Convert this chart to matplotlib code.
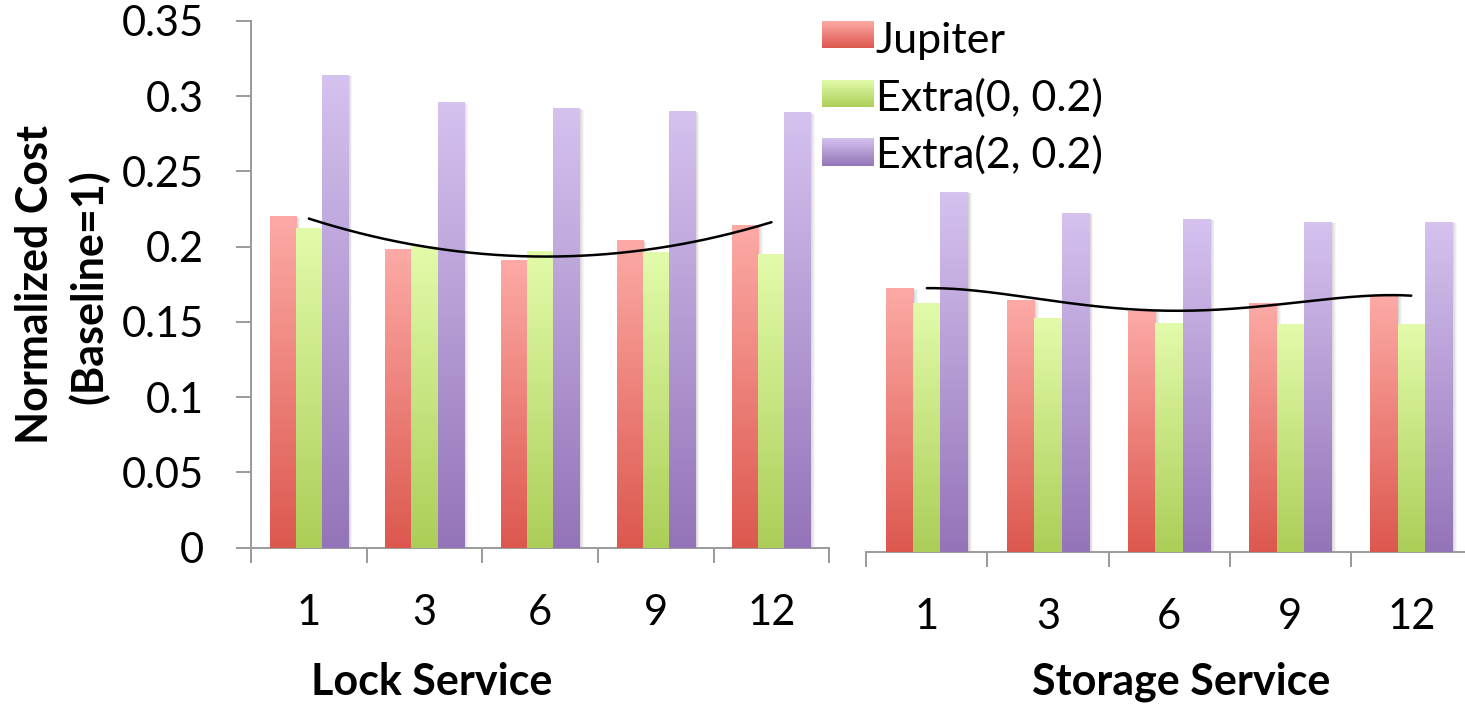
import numpy as np
import matplotlib
matplotlib.use("Agg")
import matplotlib.pyplot as plt
from matplotlib.colors import LinearSegmentedColormap
from matplotlib.patches import Rectangle
from matplotlib.transforms import offset_copy

plt.rcParams['font.family'] = ['Lato', 'DejaVu Sans']

# ---- data -------------------------------------------------------------
categories = ['1', '3', '6', '9', '12']
series_names = ['Jupiter', 'Extra(0, 0.2)', 'Extra(2, 0.2)']

lock_jupiter = [0.220, 0.198, 0.191, 0.204, 0.214]
lock_extra0 = [0.212, 0.200, 0.197, 0.196, 0.195]
lock_extra2 = [0.314, 0.296, 0.292, 0.290, 0.289]

storage_jupiter = [0.175, 0.167, 0.160, 0.165, 0.170]
storage_extra0 = [0.165, 0.155, 0.152, 0.151, 0.151]
storage_extra2 = [0.239, 0.225, 0.221, 0.219, 0.219]

y_ticks = [0, 0.05, 0.10, 0.15, 0.20, 0.25, 0.30, 0.35]
y_tick_labels = ['0', '0.05', '0.1', '0.15', '0.2', '0.25', '0.3', '0.35']

panel_titles = ['Lock Service', 'Storage Service']
y_title = ['Normalized Cost', '(Baseline=1)']

# ---- styling ----------------------------------------------------------
gradients = [('#FDAAA6', '#DC584E'),   # top, bottom
             ('#E2FBAA', '#ACCE58'),
             ('#D5C2EF', '#9474B8')]
axis_gray = '#9C9C9C'
W, H = 1465, 705
DPI = 100
PT = 72.0 / DPI  # points per pixel
TICK_FS = 30
LEGEND_FS = 31
TITLE_FS = 31

fig = plt.figure(figsize=(W / DPI, H / DPI), dpi=DPI)
fig.patch.set_facecolor('white')


def fig_rect(x0, y_top, x1, y_bottom):
    return [x0 / W, 1 - y_bottom / H, (x1 - x0) / W, (y_bottom - y_top) / H]


def gradient_cmap(top, bottom):
    return LinearSegmentedColormap.from_list('g', [bottom, top])


grad_img = np.linspace(0, 1, 256).reshape(-1, 1)


def draw_panel(ax, series, trend_deg):
    n = len(categories)
    x = np.arange(n)
    width = 0.225
    for i, vals in enumerate(series):
        top, bottom = gradients[i]
        cmap = gradient_cmap(top, bottom)
        bars = ax.bar(x + (i - 1) * width, vals, width,
                      color='none', edgecolor='none', zorder=3)
        for b in bars:
            x0, w, h = b.get_x(), b.get_width(), b.get_height()
            # soft drop shadow
            for k in range(1, 6):
                tr = offset_copy(ax.transData, fig=fig, x=k * 0.9,
                                 y=-k * 0.3, units='dots')
                ax.add_patch(Rectangle((x0, 0), w, h, transform=tr,
                                       facecolor='black', alpha=0.035,
                                       lw=0, zorder=2))
            ax.imshow(grad_img, extent=[x0, x0 + w, 0, h], origin='lower',
                      aspect='auto', cmap=cmap, interpolation='bilinear',
                      zorder=3)
    # polynomial trend line of the Jupiter series
    coeffs = np.polyfit(x, series[0], trend_deg)
    xs = np.linspace(0, n - 1, 300)
    ax.plot(xs, np.polyval(coeffs, xs), color='black', lw=2.5 * PT,
            zorder=6, solid_capstyle='round')

    ax.set_xlim(-0.5, n - 0.5)
    ax.set_ylim(0, 0.35)
    ax.set_facecolor('none')
    for s in ('top', 'right'):
        ax.spines[s].set_visible(False)
    ax.spines['bottom'].set_color(axis_gray)
    ax.spines['bottom'].set_linewidth(2.0 * PT)
    ax.spines['left'].set_color(axis_gray)
    ax.spines['left'].set_linewidth(2.0 * PT)

    ax.set_xticks(np.arange(-0.5, n, 1.0))
    ax.set_xticklabels([])
    ax.set_xticks(x, minor=True)
    ax.set_xticklabels(categories, minor=True, fontsize=TICK_FS)
    ax.tick_params(axis='x', which='major', direction='out',
                   length=15 * PT, width=2.0 * PT, color=axis_gray)
    ax.tick_params(axis='x', which='minor', length=0, pad=46 * PT)


axL = fig.add_axes(fig_rect(251.0, 20.7, 829.3, 547.8))
draw_panel(axL, [lock_jupiter, lock_extra0, lock_extra2], 2)
axL.set_yticks(y_ticks)
axL.set_yticklabels(y_tick_labels, fontsize=TICK_FS)
axL.tick_params(axis='y', direction='out', length=15 * PT, width=2.0 * PT,
                color=axis_gray, pad=32 * PT)

axR = fig.add_axes(fig_rect(866.3, 551.7 - 527.1, 866.3 + 605.5, 551.7))
draw_panel(axR, [storage_jupiter, storage_extra0, storage_extra2], 4)
axR.spines['left'].set_visible(False)
axR.tick_params(axis='y', left=False, labelleft=False)

# ---- overlay for legend and titles (pixel coordinates) ----------------
ov = fig.add_axes([0, 0, 1, 1], zorder=10)
ov.set_xlim(0, W)
ov.set_ylim(H, 0)
ov.axis('off')

legend_rows = [(21, 48, 53.5), (80, 107, 110.5), (138, 166, 168.0)]
for (y0, y1, yb), name, (top, bottom) in zip(legend_rows, series_names, gradients):
    ov.imshow(grad_img, extent=[822, 874, y1, y0], origin='lower',
              aspect='auto', cmap=gradient_cmap(top, bottom),
              interpolation='bilinear')
    ov.text(876, yb, name, fontsize=LEGEND_FS, ha='left', va='baseline')
ov.set_xlim(0, W)
ov.set_ylim(H, 0)

ov.text(432, 695, panel_titles[0], fontsize=TITLE_FS, fontweight='bold',
        ha='center', va='baseline')
ov.text(1181, 695, panel_titles[1], fontsize=TITLE_FS, fontweight='bold',
        ha='center', va='baseline')

ov.text(48, 284, y_title[0], fontsize=TITLE_FS, fontweight='bold', rotation=90,
        rotation_mode='anchor', ha='center', va='baseline')
ov.text(102, 287, y_title[1], fontsize=TITLE_FS, fontweight='bold', rotation=90,
        rotation_mode='anchor', ha='center', va='baseline')

fig.savefig('out.png', dpi=DPI)
